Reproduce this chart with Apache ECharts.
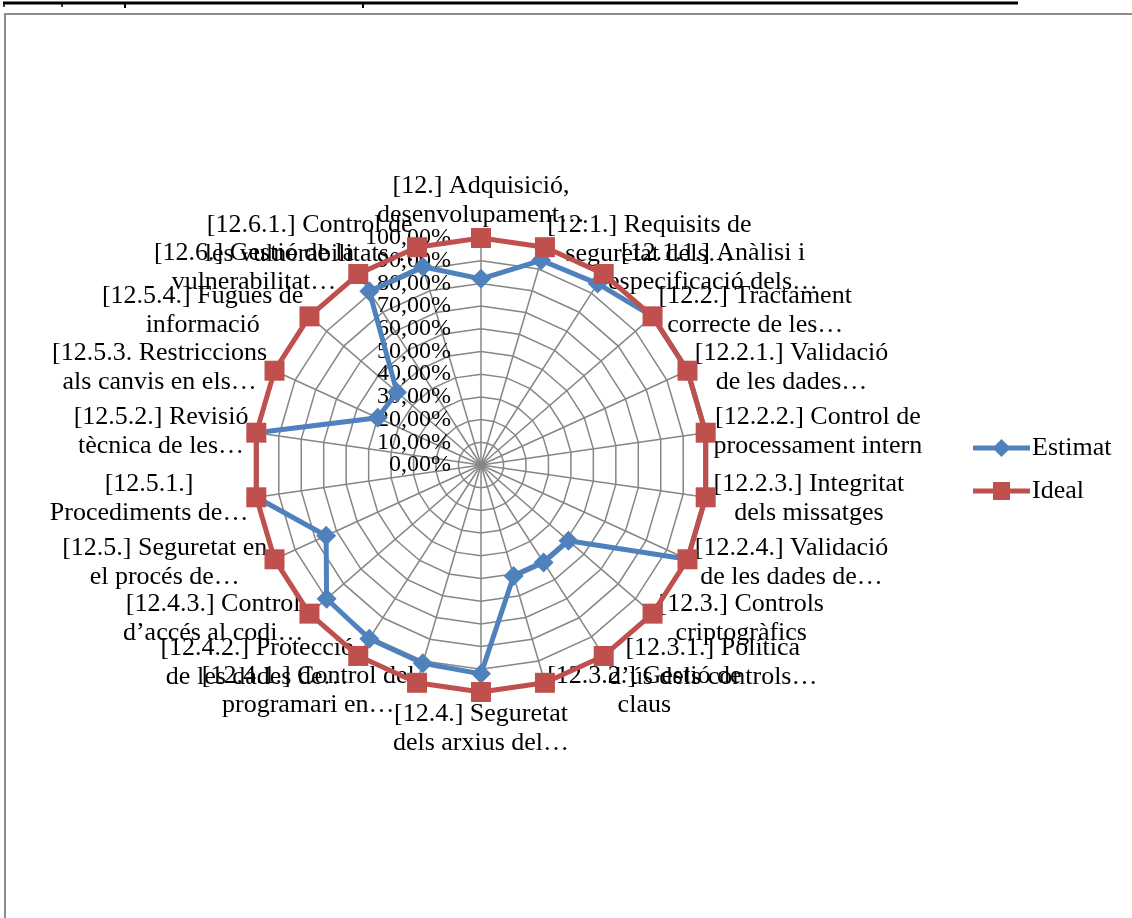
<!DOCTYPE html>
<html>
<head>
<meta charset="utf-8">
<title>Radar – Adquisició, desenvolupament i manteniment</title>
<script src="https://cdn.jsdelivr.net/npm/echarts@6/dist/echarts.min.js"></script>
<style>
  html, body { margin: 0; padding: 0; background: #fff; }
  #chart { width: 1132px; height: 918px; }
</style>
</head>
<body>
<div id="chart"></div>
<script>
// Control areas, listed clockwise from the top
const categories = [
  '[12.] Adquisició,\ndesenvolupament…',
  '[12:1.] Requisits de\nseguretat dels…',
  '[12.1.1.] Anàlisi i\nespecificació dels…',
  '[12.2.] Tractament\ncorrecte de les…',
  '[12.2.1.] Validació\nde les dades…',
  '[12.2.2.] Control de\nprocessament intern',
  '[12.2.3.] Integritat\ndels missatges',
  '[12.2.4.] Validació\nde les dades de…',
  '[12.3.] Controls\ncriptogràfics',
  '[12.3.1.] Política\nd’ús dels controls…',
  '[12.3.2.] Gestió de\nclaus',
  '[12.4.] Seguretat\ndels arxius del…',
  '[12.4.1.] Control del\nprogramari en…',
  '[12.4.2.] Protecció\nde les dades de…',
  '[12.4.3.] Control\nd’accés al codi…',
  '[12.5.] Seguretat en\nel procés de…',
  '[12.5.1.]\nProcediments de…',
  '[12.5.2.] Revisió\ntècnica de les…',
  '[12.5.3. Restriccions\nals canvis en els…',
  '[12.5.4.] Fugues de\ninformació',
  '[12.6.] Gestió de la\nvulnerabilitat…',
  '[12.6.1.] Control de\nles vulnerabilitats…'
];

// Estimated compliance level per area
const estimat = [0.82, 0.94, 0.95, 1.00, 1.00, 1.00, 1.00, 1.00, 0.51, 0.51, 0.51,
                 0.92, 0.91, 0.91, 0.90, 0.75, 1.00, 1.00, 0.50, 0.49, 0.91, 0.91];

// Target level per area
const ideal = [1, 1, 1, 1, 1, 1, 1, 1, 1, 1, 1,
               1, 1, 1, 1, 1, 1, 1, 1, 1, 1, 1];

// Radial tick labels, 0 % to 100 % in steps of 10 %
const pctTicks = ['0,00%', '10,00%', '20,00%', '30,00%', '40,00%', '50,00%',
                  '60,00%', '70,00%', '80,00%', '90,00%', '100,00%'];

const SERIF = "'Times New Roman', 'Liberation Serif', serif";
const BLUE = '#4F81BD';
const RED = '#C0504D';
const GRID = '#868686';
const CX = 481, CY = 465, R = 227;

// Legend keys: a line with the series marker in the middle
const ICON_DIAMOND = 'path://M0,6.5L57,6.5L57,11.5L0,11.5Z M28.5,0L37.5,9L28.5,18L19.5,9Z';
const ICON_SQUARE = 'path://M0,6.5L57,6.5L57,11.5L0,11.5Z M20,0L37,0L37,18L20,18Z';

// ECharts lays radar indicators out counter-clockwise; reorder so they run clockwise.
const order = [0];
for (let i = categories.length - 1; i >= 1; i--) order.push(i);
const pick = arr => order.map(i => arr[i]);

const chart = echarts.init(document.getElementById('chart'), null, { renderer: 'canvas' });

chart.setOption({
  animation: false,
  backgroundColor: '#fff',
  textStyle: { fontFamily: SERIF },
  graphic: [
    // page rule with small ticks above the chart frame
    { type: 'line', shape: { x1: 3, y1: 3, x2: 1018, y2: 3 }, style: { stroke: '#000', lineWidth: 3 } },
    { type: 'line', shape: { x1: 4, y1: 3, x2: 4, y2: 7 }, style: { stroke: '#000', lineWidth: 1.5 } },
    { type: 'line', shape: { x1: 62, y1: 3, x2: 62, y2: 7 }, style: { stroke: '#000', lineWidth: 1.5 } },
    { type: 'line', shape: { x1: 125, y1: 3, x2: 125, y2: 8 }, style: { stroke: '#000', lineWidth: 2 } },
    { type: 'line', shape: { x1: 363, y1: 3, x2: 363, y2: 8 }, style: { stroke: '#000', lineWidth: 2 } },
    // chart frame
    { type: 'polyline', shape: { points: [[5, 918], [5, 14], [1132, 14]] },
      style: { stroke: '#8c8c8c', lineWidth: 2, fill: null } }
  ],
  legend: {
    orient: 'vertical',
    left: 968,
    top: 430,
    itemWidth: 57,
    itemHeight: 18,
    itemGap: 17,
    textStyle: { fontFamily: SERIF, fontSize: 26, color: '#000', padding: [0, 0, 0, -3] },
    data: [
      { name: 'Estimat', icon: ICON_DIAMOND },
      { name: 'Ideal', icon: ICON_SQUARE }
    ]
  },
  radar: {
    center: [CX, CY],
    radius: R,
    startAngle: 90,
    splitNumber: 10,
    shape: 'polygon',
    axisNameGap: 8,
    indicator: pick(categories).map(name => ({ name: name, min: 0, max: 1 })),
    axisName: {
      color: '#000',
      fontFamily: SERIF,
      fontSize: 26,
      formatter: function (name) {
        return name.split('\n').map(l => '{t|' + l + '}').join('\n');
      },
      rich: {
        t: { fontFamily: SERIF, fontSize: 26, lineHeight: 29, color: '#000', align: 'center' }
      }
    },
    axisLine: { lineStyle: { color: GRID, width: 1.5 } },
    splitLine: { lineStyle: { color: GRID, width: 1.5 } },
    splitArea: { show: false },
    axisTick: { show: false },
    axisLabel: { show: false }
  },
  // polar overlay only carries the percentage labels along the upward spoke
  polar: { center: [CX, CY], radius: R },
  angleAxis: { show: false, startAngle: 90, min: 0, max: 360 },
  radiusAxis: {
    type: 'category',
    data: pctTicks,
    boundaryGap: false,
    axisLine: { show: false },
    axisTick: { show: false },
    splitLine: { show: false },
    axisLabel: {
      interval: 0,
      margin: 30,
      color: '#000',
      fontFamily: SERIF,
      fontSize: 24
    }
  },
  series: [{
    type: 'radar',
    z: 3,
    data: [
      {
        name: 'Estimat',
        value: pick(estimat),
        symbol: 'diamond',
        symbolSize: 20,
        lineStyle: { color: BLUE, width: 5 },
        itemStyle: { color: BLUE }
      },
      {
        name: 'Ideal',
        value: pick(ideal),
        symbol: 'rect',
        symbolSize: 20,
        lineStyle: { color: RED, width: 5 },
        itemStyle: { color: RED }
      }
    ]
  }]
});
</script>
</body>
</html>
